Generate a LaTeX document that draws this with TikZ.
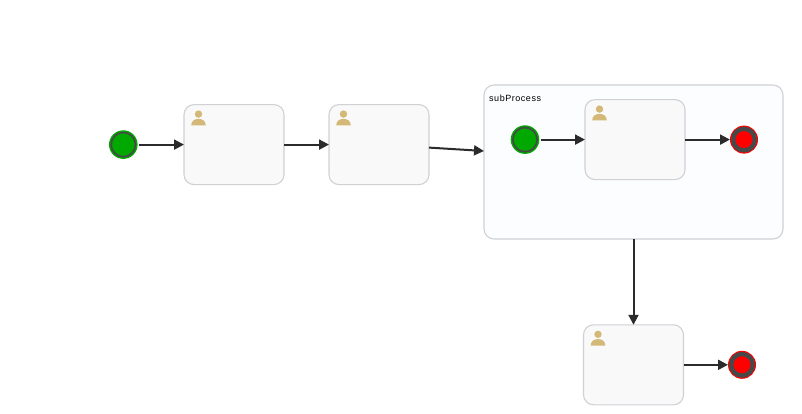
\documentclass[tikz,border=0pt]{standalone}
\usepackage{fontspec}
\usetikzlibrary{arrows.meta}
\newfontfamily\labelfont[LetterSpace=6]{Liberation Sans}
\definecolor{taskfill}{HTML}{F9F9F9}
\definecolor{subfill}{HTML}{FCFDFF}
\definecolor{boxline}{HTML}{CFD1D5}
\definecolor{ringgray}{HTML}{484848}
\definecolor{flowline}{HTML}{2B2B2B}
\definecolor{startgreen}{HTML}{00A800}
\definecolor{endred}{HTML}{FF0000}
\definecolor{persontan}{HTML}{D4B878}
\tikzset{
  taskbox/.style={draw=boxline, fill=taskfill, line width=1.1pt, rounded corners=10pt,
    minimum width=100pt, minimum height=80pt, inner sep=0pt, outer sep=0pt},
  subbox/.style={draw=boxline, fill=subfill, line width=1.1pt, rounded corners=10pt,
    minimum width=299pt, minimum height=154pt, inner sep=0pt, outer sep=0pt},
  startev/.style={circle, fill=startgreen, inner sep=0pt,
    minimum size=28.6pt, outer sep=1.5pt},
  endev/.style={circle, fill=endred, inner sep=0pt,
    minimum size=28pt, outer sep=0pt},
  flow/.style={draw=flowline, line width=2pt, -{Triangle[length=10pt,width=10pt]}},
  person/.pic={
    \fill[persontan] (0,0) circle[radius=3.7];
    \fill[persontan] (-7.3,11.4) .. controls (-7.3,6.5) and (-3.5,4.8) .. (0,4.8)
      .. controls (3.5,4.8) and (7.3,6.5) .. (7.3,11.4) -- cycle;
  }
}
\begin{document}
\begin{tikzpicture}[x=1pt, y=-1pt]
  \useasboundingbox (0,0) rectangle (802,414);

  % sub process with its own flow
  \node[subbox] (sub) at (633.5,162) {};
  \node[font=\labelfont\fontsize{9}{9}\selectfont, anchor=west, inner sep=0pt] (sublabel) at (489,98) {subProcess};
  \node[startev] (start2) at (525,139.6) {};
  \node[taskbox] (task3) at (635,139.6) {};
  \node[endev] (end1) at (744,139.6) {};

  % outer tasks and events
  \node[startev] (start1) at (123.3,144.6) {};
  \node[taskbox] (task1) at (234,144.6) {};
  \node[taskbox] (task2) at (379,144.6) {};
  \node[taskbox] (task4) at (633.5,364.8) {};
  \node[endev] (end2) at (742,364.8) {};

  % rings inside the events
  \foreach \e in {start1,start2}
    \fill[ringgray, even odd rule] (\e.center) circle[radius=13] circle[radius=11.3];
  \foreach \e in {end1,end2}
    \fill[ringgray, even odd rule] (\e.center) circle[radius=13] circle[radius=8.6];

  % person icons
  \foreach \t in {task1,task2,task3,task4}
    \pic at ([xshift=14.5pt,yshift=-9.5pt]\t.north west) {person};

  % flows
  \draw[flow] (start1) -- (task1.west);
  \draw[flow] (task1.east) -- (task2.west);
  \draw[flow] ([yshift=-3pt]task2.east) -- ([yshift=11pt]sub.west);
  \draw[flow] (start2) -- (task3.west);
  \draw[flow] (task3.east) -- (end1);
  \draw[flow] (sub.south) -- (task4.north);
  \draw[flow] (task4.east) -- (end2);
\end{tikzpicture}
\end{document}
